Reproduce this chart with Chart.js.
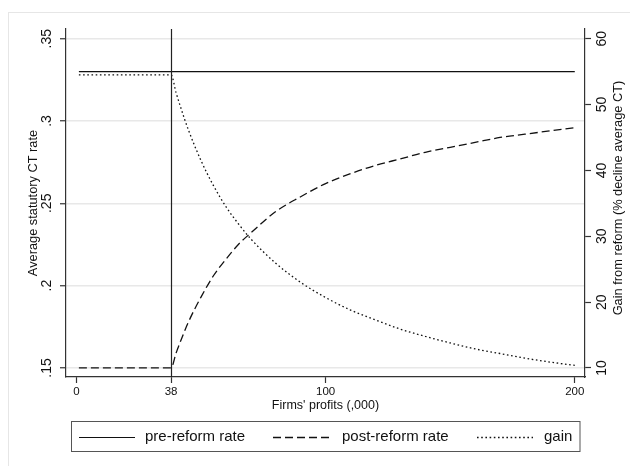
<!DOCTYPE html>
<html><head><meta charset="utf-8">
<script src="https://cdn.jsdelivr.net/npm/chart.js@4/dist/chart.umd.min.js"></script>
<style>html,body{margin:0;padding:0;background:#fff}#wrap{width:630px;height:466px;position:relative}</style>
</head><body><div id="wrap"><canvas id="c" width="630" height="466"></canvas></div>
<script>
// ---- data ----
const profits        = [1, 38, 40, 42, 45, 50, 55, 60, 65, 70, 80, 90, 100, 110, 120, 130, 140, 150, 160, 170, 180, 190, 200];
const preReformRate  = [0.33, 0.33, 0.33, 0.33, 0.33, 0.33, 0.33, 0.33, 0.33, 0.33, 0.33, 0.33, 0.33, 0.33, 0.33, 0.33, 0.33, 0.33, 0.33, 0.33, 0.33, 0.33, 0.33];
const postReformRate = [0.15, 0.15, 0.159, 0.167, 0.178, 0.193, 0.206, 0.216, 0.225, 0.232, 0.245, 0.254, 0.262, 0.268, 0.273, 0.277, 0.281, 0.284, 0.287, 0.290, 0.292, 0.294, 0.296];
const gainPct        = [54.5, 54.5, 51.8, 49.4, 46.1, 41.5, 37.7, 34.5, 31.9, 29.6, 25.9, 23.0, 20.7, 18.8, 17.3, 15.9, 14.8, 13.8, 12.9, 12.2, 11.5, 10.9, 10.4];
const thresholdProfit = 38;
const seriesLabels   = ['pre-reform rate', 'post-reform rate', 'gain'];
const xTickValues    = [0, 38, 100, 200];
const xTickLabels    = ['0', '38', '100', '200'];
const leftTickValues = [0.15, 0.2, 0.25, 0.3, 0.35];
const leftTickLabels = ['.15', '.2', '.25', '.3', '.35'];
const rightTickValues = [10, 20, 30, 40, 50, 60];
const rightTickLabels = ['10', '20', '30', '40', '50', '60'];
const xTitle = "Firms' profits (,000)";
const leftTitle = 'Average statutory CT rate';
const rightTitle = 'Gain from reform (% decline average CT)';

const pts = (ys) => profits.map((x, i) => ({x: x, y: ys[i]}));
const FONT = '"Liberation Sans", Arial, Helvetica, sans-serif';
const INK = '#111';

function setTicks(vals){ return function(scale){ scale.ticks = vals.map(v => ({value: v})); }; }

function vtext(ctx, txt, x, y, size){
  ctx.save(); ctx.translate(x, y); ctx.rotate(-Math.PI/2);
  ctx.font = size + 'px ' + FONT; ctx.textAlign = 'center'; ctx.textBaseline = 'middle';
  ctx.fillStyle = INK; ctx.fillText(txt, 0, 0); ctx.restore();
}
function htext(ctx, txt, x, y, size, align){
  ctx.save(); ctx.font = size + 'px ' + FONT; ctx.textAlign = align || 'center'; ctx.textBaseline = 'middle';
  ctx.fillStyle = INK; ctx.fillText(txt, x, y); ctx.restore();
}

const decor = {
  id: 'decor',
  beforeDraw(chart){
    const c = chart.ctx; c.save();
    c.fillStyle = '#fff'; c.fillRect(0, 0, chart.width, chart.height);
    c.strokeStyle = '#e6e6e6'; c.lineWidth = 1; c.strokeRect(8.5, 12.5, chart.width + 20, chart.height + 20);
    c.restore();
  },
  afterDatasetsDraw(chart){
    const c = chart.ctx, a = chart.chartArea, xs = chart.scales.x;
    const px = Math.round(xs.getPixelForValue(thresholdProfit)) + 0.5;
    c.save(); c.strokeStyle = '#222'; c.lineWidth = 1.2;
    c.beginPath(); c.moveTo(px, a.top); c.lineTo(px, a.bottom); c.stroke(); c.restore();
  },
  afterDraw(chart){
    const c = chart.ctx, xs = chart.scales.x, yl = chart.scales.yL, yr = chart.scales.yR;
    leftTickValues.forEach((v, i) => vtext(c, leftTickLabels[i], 47, yl.getPixelForValue(v), 14));
    rightTickValues.forEach((v, i) => vtext(c, rightTickLabels[i], 602, yr.getPixelForValue(v), 14));
    xTickValues.forEach((v, i) => htext(c, xTickLabels[i], xs.getPixelForValue(v), 392, 11.5));
    htext(c, xTitle, (chart.chartArea.left + chart.chartArea.right) / 2, 406, 12.5);
    vtext(c, leftTitle, 33, 203, 12.8);
    vtext(c, rightTitle, 618, 198, 12.8);
    // legend
    c.save();
    c.strokeStyle = '#555'; c.lineWidth = 1; c.strokeRect(71.5, 421.5, 508.5, 30);
    const items = [[79, 135, 145], [273, 332, 342], [477, 533, 544]];
    chart.data.datasets.forEach((ds, i) => {
      const it = items[i];
      c.save(); c.strokeStyle = ds.borderColor; c.lineWidth = ds.borderWidth; c.setLineDash(ds.borderDash || []);
      c.beginPath(); c.moveTo(it[0], 437.5); c.lineTo(it[1], 437.5); c.stroke(); c.restore();
      htext(c, ds.label, it[2], 437, 15, 'left');
    });
    c.restore();
  }
};

new Chart(document.getElementById('c'), {
  type: 'line',
  data: {
    datasets: [
      {label: seriesLabels[0], data: pts(preReformRate), yAxisID: 'yL', borderColor: '#111', borderWidth: 1.2, borderDash: [], pointRadius: 0, fill: false},
      {label: seriesLabels[1], data: pts(postReformRate), yAxisID: 'yL', borderColor: '#111', borderWidth: 1.3, borderDash: [8, 4], pointRadius: 0, fill: false, cubicInterpolationMode: 'monotone'},
      {label: seriesLabels[2], data: pts(gainPct), yAxisID: 'yR', borderColor: '#111', borderWidth: 1.3, borderDash: [1.6, 2.6], pointRadius: 0, fill: false, cubicInterpolationMode: 'monotone'}
    ]
  },
  options: {
    responsive: false, animation: false, devicePixelRatio: 1,
    layout: {padding: {top: 29, left: 0, right: 0, bottom: 0}},
    plugins: {legend: {display: false}, tooltip: {enabled: false}, title: {display: false}},
    scales: {
      x: {
        type: 'linear', position: 'bottom', min: -4.17, max: 204.1,
        afterBuildTicks: setTicks(xTickValues),
        afterFit(s){ s.height = 89; },
        ticks: {display: false},
        grid: {drawOnChartArea: false, drawTicks: true, tickLength: 6, tickColor: '#333', tickWidth: 1.2},
        border: {display: true, color: '#333', width: 1.2}
      },
      yL: {
        type: 'linear', position: 'left', min: 0.14449, max: 0.35589,
        afterBuildTicks: setTicks(leftTickValues),
        afterFit(s){ s.width = 66; },
        ticks: {display: false},
        grid: {drawOnChartArea: true, color: '#e8e8e8', lineWidth: 1.5, drawTicks: true, tickLength: 6, tickColor: '#333', tickWidth: 1.2},
        border: {display: true, color: '#333', width: 1.2}
      },
      yR: {
        type: 'linear', position: 'right', min: 8.633, max: 61.473,
        afterBuildTicks: setTicks(rightTickValues),
        afterFit(s){ s.width = 45; },
        ticks: {display: false},
        grid: {drawOnChartArea: false, drawTicks: true, tickLength: 6, tickColor: '#333', tickWidth: 1.2},
        border: {display: true, color: '#333', width: 1.2}
      }
    }
  },
  plugins: [decor]
});
</script>
</body></html>
